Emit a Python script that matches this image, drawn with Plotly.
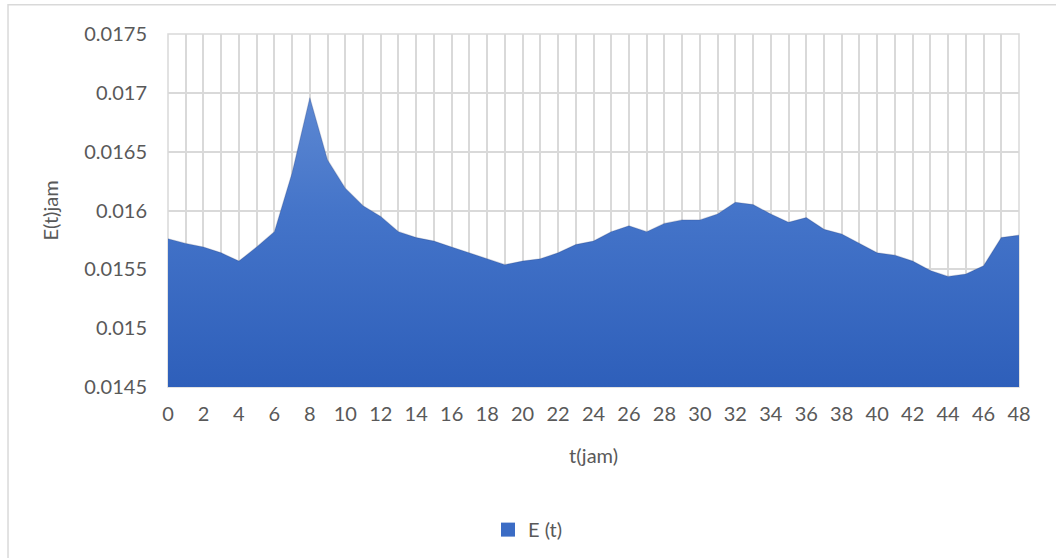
import plotly.graph_objects as go

# Hourly series E(t) over 48 hours
t_jam = list(range(0, 49))
e_t = [
    0.01576, 0.01572, 0.01569, 0.01564, 0.01557, 0.01569, 0.01582, 0.01632,
    0.01696, 0.01643, 0.01619, 0.01604, 0.01595, 0.01582, 0.01577, 0.01574,
    0.01569, 0.01564, 0.01559, 0.01554, 0.01557, 0.01559, 0.01564, 0.01571,
    0.01574, 0.01582, 0.01587, 0.01582, 0.01589, 0.01592, 0.01592, 0.01597,
    0.01607, 0.01605, 0.01597, 0.01590, 0.01594, 0.01584, 0.01580, 0.01572,
    0.01564, 0.01562, 0.01557, 0.01549, 0.01544, 0.01546, 0.01553, 0.01577,
    0.01579,
]

y_ticks = [0.0145, 0.015, 0.0155, 0.016, 0.0165, 0.017, 0.0175]
y_tick_text = ["0.0145", "0.015", "0.0155", "0.016", "0.0165", "0.017", "0.0175"]
x_ticks = list(range(0, 49, 2))

series_name = "E (t)"
x_title = "t(jam)"
y_title = "E(t)jam"

FONT = "Lato"
TEXT = "#595959"
GRID = "#d9d9d9"

fig = go.Figure()

# Filled area with a vertical blue gradient
fig.add_trace(go.Scatter(
    x=t_jam,
    y=e_t,
    name=series_name,
    legendgroup="e",
    mode="lines",
    line=dict(color="rgba(40,60,110,0.22)", width=1.2),
    fill="tozeroy",
    fillgradient=dict(
        type="vertical",
        start=y_ticks[0],
        stop=max(e_t),
        colorscale=[[0, "#2e5fba"], [0.6, "#4474c9"], [1, "#5d88d2"]],
    ),
    fillcolor="#3a6bc4",
    showlegend=False,
))

# Square legend key for the area series
fig.add_trace(go.Scatter(
    x=[None],
    y=[None],
    name=series_name,
    legendgroup="e",
    mode="markers",
    marker=dict(symbol="square", size=14, color="#3b6cc5", line=dict(width=0)),
    showlegend=True,
))

fig.update_layout(
    width=1056,
    height=558,
    margin=dict(l=168, r=37, t=34, b=171, autoexpand=False),
    paper_bgcolor="white",
    plot_bgcolor="white",
    font=dict(family=FONT, size=20, color=TEXT),
    showlegend=True,
    legend=dict(
        orientation="h",
        x=0.423,
        xanchor="center",
        y=-0.404,
        yanchor="middle",
        font=dict(family=FONT, size=20, color=TEXT),
        itemwidth=30,
        itemsizing="trace",
        bgcolor="rgba(0,0,0,0)",
    ),
    xaxis=dict(
        range=[0, 48],
        tickmode="array",
        tickvals=x_ticks,
        ticktext=[str(v) for v in x_ticks],
        showgrid=True,
        gridcolor=GRID,
        gridwidth=1.5,
        minor=dict(dtick=1, tick0=0, showgrid=True, gridcolor=GRID, gridwidth=1.5),
        zeroline=False,
        showline=False,
        ticks="",
        ticklabelstandoff=13,
        tickfont=dict(family=FONT, size=20, color=TEXT),
        title=dict(text=x_title, font=dict(family=FONT, size=20, color=TEXT), standoff=24),
    ),
    yaxis=dict(
        range=[y_ticks[0], y_ticks[-1]],
        tickmode="array",
        tickvals=y_ticks,
        ticktext=y_tick_text,
        showgrid=True,
        gridcolor=GRID,
        gridwidth=1.5,
        zeroline=False,
        showline=False,
        ticks="",
        ticklabelstandoff=20,
        tickfont=dict(family=FONT, size=20, color=TEXT),
        title=dict(text=y_title, font=dict(family=FONT, size=20, color=TEXT), standoff=20),
    ),
    shapes=[
        # plot-area frame on the right/top edges
        dict(type="rect", xref="paper", yref="paper", x0=0, x1=1, y0=0, y1=1,
             line=dict(color=GRID, width=1.5), fillcolor="rgba(0,0,0,0)", layer="below"),
        # outer chart border
        dict(type="rect", xref="paper", yref="paper", x0=-0.188, x1=1.1, y0=-0.6, y1=1.083,
             line=dict(color=GRID, width=1.5), fillcolor="rgba(0,0,0,0)", layer="below"),
    ],
)

fig.write_html("out.html")
